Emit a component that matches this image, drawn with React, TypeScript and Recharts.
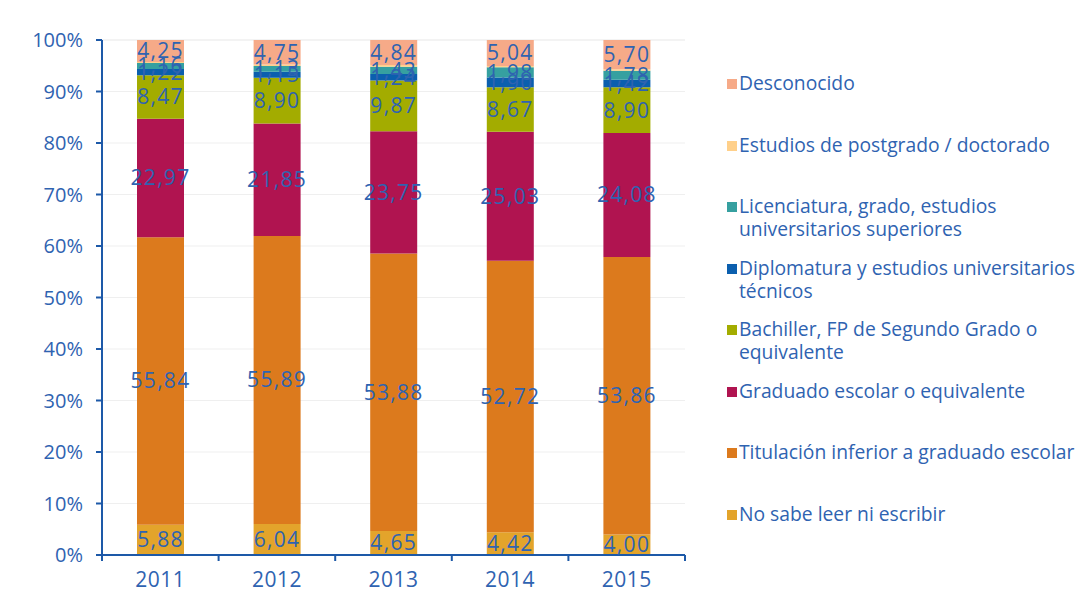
import React from 'react'
import {
  BarChart, Bar, XAxis, YAxis, CartesianGrid, LabelList,
} from 'recharts'

const years = ['2011', '2012', '2013', '2014', '2015']

const noSabe        = [5.88, 6.04, 4.65, 4.42, 4.0]
const titulacion    = [55.84, 55.89, 53.88, 52.72, 53.86]
const graduado      = [22.97, 21.85, 23.75, 25.03, 24.08]
const bachiller     = [8.47, 8.9, 9.87, 8.67, 8.9]
const diplomatura   = [1.22, 1.15, 1.24, 1.9, 1.42]
const licenciatura  = [1.16, 1.13, 1.43, 1.98, 1.78]
const postgrado     = [0.21, 0.29, 0.34, 0.24, 0.26]
const desconocido   = [4.25, 4.75, 4.84, 5.04, 5.7]

const yTicks = [0, 10, 20, 30, 40, 50, 60, 70, 80, 90, 100]

const BLUE_TEXT = '#2f63b1'
const AXIS = '#1d59a8'
const FONT = '"Open Sans", sans-serif'
const X_TICK_SIZE = 6
const X_TICK_MARGIN = 11

// bottom-to-top stack order
const SERIES = [
  { key: 'noSabe',       name: ['No sabe leer ni escribir'],                               color: '#E3A42B', label: true },
  { key: 'titulacion',   name: ['Titulación inferior a graduado escolar'],                 color: '#DC7A1D', label: true },
  { key: 'graduado',     name: ['Graduado escolar o equivalente'],                         color: '#B01450', label: true },
  { key: 'bachiller',    name: ['Bachiller, FP de Segundo Grado o', 'equivalente'],        color: '#A3AC00', label: true },
  { key: 'diplomatura',  name: ['Diplomatura y estudios universitarios', 'técnicos'],      color: '#0B5FAE', label: true },
  { key: 'licenciatura', name: ['Licenciatura, grado, estudios', 'universitarios superiores'], color: '#36A0A0', label: true },
  { key: 'postgrado',    name: ['Estudios de postgrado / doctorado'],                      color: '#FFD08A', label: false },
  { key: 'desconocido',  name: ['Desconocido'],                                             color: '#F6AA88', label: true },
]

const data = years.map((y, i) => ({
  year: y,
  noSabe: noSabe[i],
  titulacion: titulacion[i],
  graduado: graduado[i],
  bachiller: bachiller[i],
  diplomatura: diplomatura[i],
  licenciatura: licenciatura[i],
  postgrado: postgrado[i],
  desconocido: desconocido[i],
}))

const fmt = (v: any) => Number(v).toFixed(2).replace('.', ',')

// year label plus tick marks on the category boundaries
function YearTick(props: any) {
  const { x, y, payload, index, visibleTicksCount, width } = props
  const half = payload?.offset || width / (2 * visibleTicksCount)
  const axisY = y - X_TICK_SIZE - X_TICK_MARGIN
  const last = index === visibleTicksCount - 1
  return (
    <g>
      <line x1={x - half} x2={x - half} y1={axisY} y2={axisY + X_TICK_SIZE} stroke={AXIS} strokeWidth={2} />
      {last && (
        <line x1={x + half} x2={x + half} y1={axisY} y2={axisY + X_TICK_SIZE} stroke={AXIS} strokeWidth={2} />
      )}
      <text x={x} y={y} dy="0.71em" textAnchor="middle" fill={BLUE_TEXT}
        style={{ fontSize: 21, fontFamily: FONT, letterSpacing: 0.5 }}>
        {payload.value}
      </text>
    </g>
  )
}

function LegendBox() {
  const items = [...SERIES].reverse()
  return (
    <div style={{
      position: 'absolute', left: 727, top: 71, width: 361,
      fontFamily: FONT, fontSize: 19.3, color: BLUE_TEXT, lineHeight: '23px',
    }}>
      {items.map((s) => (
        <div key={s.key} style={{ height: 61.5, position: 'relative' }}>
          <span style={{
            position: 'absolute', left: 0, top: 8, width: 10, height: 10, background: s.color,
          }} />
          <div style={{ marginLeft: 12 }}>
            {s.name.map((line, j) => <div key={j} style={{ whiteSpace: 'nowrap' }}>{line}</div>)}
          </div>
        </div>
      ))}
    </div>
  )
}

export default function App() {
  return (
    <div style={{ position: 'absolute', left: 0, top: 0, width: 1088, height: 600, background: '#fff' }}>
      <BarChart
        width={1088}
        height={600}
        data={data}
        barSize={47}
        margin={{ top: 40, right: 403, left: 40, bottom: 0 }}
      >
        <CartesianGrid vertical={false} stroke="#efefef" />
        <XAxis
          dataKey="year"
          axisLine={{ stroke: AXIS, strokeWidth: 2 }}
          tickLine={false}
          interval={0}
          height={45}
          tickSize={X_TICK_SIZE}
          tickMargin={X_TICK_MARGIN}
          tick={<YearTick />}
        />
        <YAxis
          domain={[0, 100]}
          ticks={yTicks}
          width={62}
          interval={0}
          tickFormatter={(v) => `${v}%`}
          axisLine={{ stroke: AXIS, strokeWidth: 2 }}
          tickLine={{ stroke: AXIS, strokeWidth: 2 }}
          tickSize={6}
          tick={{ fill: BLUE_TEXT, fontSize: 20, fontFamily: FONT }}
          tickMargin={13}
        />
        {SERIES.map((s) => (
          <Bar
            key={s.key}
            dataKey={s.key}
            stackId="a"
            fill={s.color}
            isAnimationActive={false}
          >
            {s.label && (
              <LabelList
                dataKey={s.key}
                position="center"
                formatter={fmt}
                style={{ fill: BLUE_TEXT, fontSize: 21, fontFamily: FONT, letterSpacing: 1.3 }}
              />
            )}
          </Bar>
        ))}
      </BarChart>
      <LegendBox />
    </div>
  )
}
